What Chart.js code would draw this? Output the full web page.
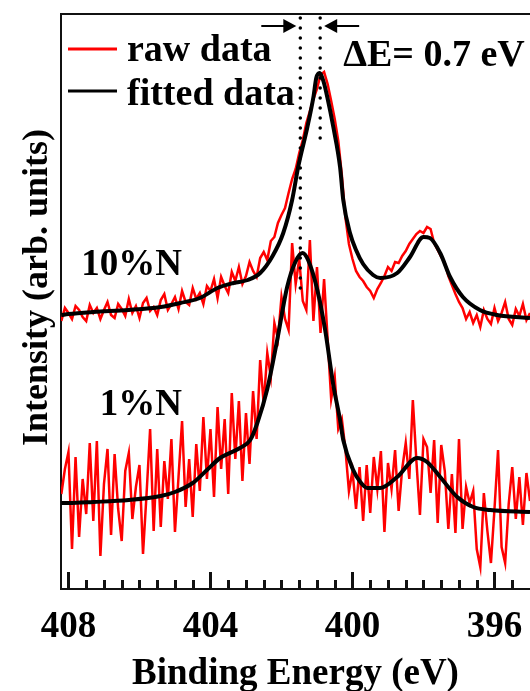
<!DOCTYPE html>
<html>
<head>
    <meta charset="UTF-8">
    <script src="https://cdn.jsdelivr.net/npm/chart.js@4.4.0/dist/chart.umd.min.js" type="text/javascript"></script>
    <title>N 1s XPS</title>
    <style>
        body { margin: 0; background: #fff; overflow: hidden; }
    </style>
</head>
<body>
    <canvas id="myChart" width="530" height="691"></canvas>
    <script type="text/javascript">
        // binding energy grid of the raw spectra (eV)
        const rawEnergy = [408.2, 408.1,
            408.0, 407.9, 407.8, 407.7, 407.6, 407.5, 407.4, 407.3, 407.2, 407.1,
            407.0, 406.9, 406.8, 406.7, 406.6, 406.5, 406.4, 406.3, 406.2, 406.1,
            406.0, 405.9, 405.8, 405.7, 405.6, 405.5, 405.4, 405.3, 405.2, 405.1,
            405.0, 404.9, 404.8, 404.7, 404.6, 404.5, 404.4, 404.3, 404.2, 404.1,
            404.0, 403.9, 403.8, 403.7, 403.6, 403.5, 403.4, 403.3, 403.2, 403.1,
            403.0, 402.9, 402.8, 402.7, 402.6, 402.5, 402.4, 402.3, 402.2, 402.1,
            402.0, 401.9, 401.8, 401.7, 401.6, 401.5, 401.4, 401.3, 401.2, 401.1,
            401.0, 400.9, 400.8, 400.7, 400.6, 400.5, 400.4, 400.3, 400.2, 400.1,
            400.0, 399.9, 399.8, 399.7, 399.6, 399.5, 399.4, 399.3, 399.2, 399.1,
            399.0, 398.9, 398.8, 398.7, 398.6, 398.5, 398.4, 398.3, 398.2, 398.1,
            398.0, 397.9, 397.8, 397.7, 397.6, 397.5, 397.4, 397.3, 397.2, 397.1,
            397.0, 396.9, 396.8, 396.7, 396.6, 396.5, 396.4, 396.3, 396.2, 396.1,
            396.0, 395.9, 395.8, 395.7, 395.6, 395.5, 395.4, 395.3, 395.2, 395.1,
            395.0];

        // raw intensity, 10%N (offset spectrum, arb. units)
        const raw10 = [268, 281,
            276, 270, 283, 279, 272, 268, 284, 276, 281, 270,
            279, 287, 274, 271, 285, 280, 273, 290, 276, 283,
            271, 286, 291, 278, 282, 274, 289, 295, 279, 285,
            292, 280, 298, 287, 284, 301, 290, 296, 285, 303,
            298, 310, 291, 312, 303, 296, 317, 308, 322, 305,
            313, 327, 318, 312, 331, 337, 329, 348, 352, 366,
            374, 381, 396, 410, 420, 436, 449, 466, 478, 490,
            500, 514, 517, 505, 488, 470, 448, 414, 372, 345,
            330, 318, 312, 308, 302, 298, 291, 300, 306, 313,
            322, 318, 327, 326, 333, 338, 345, 350, 355, 358,
            356, 362, 360, 346, 339, 332, 326, 313, 304, 295,
            287, 281, 270, 277, 266, 274, 262, 279, 270, 265,
            281, 268, 276, 287, 270, 264, 280, 273, 285, 269,
            276];

        // raw intensity, 1%N
        const raw1 = [95, 120,
            137, 40, 132, 52, 110, 75, 146, 68, 148, 33,
            105, 140, 54, 135, 80, 48, 118, 136, 70, 102,
            124, 35, 95, 160, 58, 140, 62, 128, 90, 150,
            57, 112, 168, 82, 130, 72, 145, 98, 172, 110,
            160, 92, 182, 120, 170, 95, 196, 130, 188, 108,
            176, 125, 198, 150, 229, 185, 236, 212, 266, 250,
            292, 270, 259, 346, 305, 330, 288, 279, 349, 268,
            322, 256, 310, 250, 190, 212, 160, 170, 140, 98,
            118, 80, 122, 68, 124, 76, 132, 100, 138, 57,
            126, 100, 139, 78, 120, 146, 110, 189, 128, 74,
            150, 142, 96, 149, 66, 144, 118, 60, 115, 56,
            150, 60, 102, 86, 98, 40, 22, 96, 58, 26,
            80, 139, 42, 26, 85, 122, 70, 112, 64, 116,
            88];

        // fitted envelopes
        const fitEnergy10 = [408.2, 408.0, 407.3, 406.3, 405.4, 404.85, 404.3, 403.8, 403.35, 402.95,
            402.6, 402.25, 401.95, 401.7, 401.53, 401.27, 401.1, 401.02, 400.93, 400.82,
            400.71, 400.54, 400.35, 400.26, 400.07, 399.9, 399.7, 399.42, 399.22, 398.74,
            398.38, 398.0, 397.82, 397.53, 397.25, 396.89, 396.41, 395.93, 395.0];
        const fit10 = [274, 275, 277, 279, 282, 286, 291, 301, 306, 309,
            316, 333, 356, 389, 422, 462, 492, 511, 516, 508,
            492, 462, 422, 389, 356, 339, 325, 314, 311, 316,
            332, 352, 351, 336, 312, 292, 279, 274, 271];

        const fitEnergy1 = [408.2, 408.0, 407.3, 406.3, 405.4, 405.0, 404.5, 404.1, 403.73, 403.17,
            402.88, 402.68, 402.4, 402.12, 401.84, 401.61, 401.41, 401.25, 400.99, 400.77,
            400.54, 400.35, 400.26, 399.98, 399.78, 399.58, 399.22, 398.74, 398.18, 397.9,
            397.53, 397.05, 396.6, 396.12, 395.0];
        const fit1 = [86, 86, 87, 89, 93, 97, 106, 119, 131, 141,
            149, 166, 200, 249, 302, 327, 336, 329, 299, 259,
            204, 169, 149, 119, 107, 101, 101, 112, 131, 127,
            112, 92, 82, 79, 77];

        // N 1s peak positions (1%N, 10%N) and the heights the guide lines reach
        const peakPositions = [401.47, 400.91];
        const peakGuideTop = [297, 441];
        const sampleLabels = ['10%N', '1%N'];
        const tickLabels = [408, 404, 400, 396];
        const minorTicks = [395.5, 396.5, 397, 397.5, 398, 398.5, 399, 399.5, 400.5, 401, 401.5,
            402, 402.5, 403, 403.5, 404.5, 405, 405.5, 406, 406.5, 407, 407.5];

        const serif = "'Liberation Serif', 'Times New Roman', serif";
        const frameColor = '#111111';

        function toPoints(xs, ys) {
            return ys.map((v, i) => ({ x: xs[i], y: v }));
        }

        const annotate = {
            id: 'annotate',
            afterDraw(chart) {
                const { ctx, chartArea: a, scales: { x, y } } = chart;
                ctx.save();
                ctx.setLineDash([]);
                // top edge of the frame
                ctx.fillStyle = frameColor;
                ctx.fillRect(a.left - 1, a.top - 1, a.right - a.left + 1, 2);
                // inward ticks: long at the labelled values, short every 0.5 eV
                const bottom = Math.round(a.bottom);
                const drawTick = (v, len) => {
                    const px = Math.round(x.getPixelForValue(v));
                    ctx.fillRect(px - 1, bottom - len, 3, len);
                };
                tickLabels.forEach(v => drawTick(v, 17));
                minorTicks.forEach(v => drawTick(v, 9));
                // y axis title
                ctx.save();
                ctx.translate(38, (a.top + a.bottom) / 2 - 14);
                ctx.rotate(-Math.PI / 2);
                ctx.fillStyle = '#000';
                ctx.font = 'bold 36px ' + serif;
                ctx.textAlign = 'center';
                ctx.textBaseline = 'middle';
                ctx.fillText('Intensity (arb. units)', 0, 0);
                ctx.restore();
                // dotted guides at the peak maxima
                ctx.strokeStyle = '#000';
                ctx.lineWidth = 3.5;
                ctx.lineCap = 'round';
                ctx.setLineDash([0, 10]);
                peakPositions.forEach((p, i) => {
                    const px = x.getPixelForValue(p);
                    ctx.beginPath();
                    ctx.moveTo(px, a.top + 4);
                    ctx.lineTo(px, y.getPixelForValue(peakGuideTop[i]));
                    ctx.stroke();
                });
                ctx.setLineDash([]);
                ctx.lineCap = 'butt';
                // arrows pointing at the two guides
                const ay = a.top + 12;
                const xl = x.getPixelForValue(peakPositions[0]) - 4;
                const xr = x.getPixelForValue(peakPositions[1]) + 4;
                ctx.lineWidth = 2;
                ctx.fillStyle = '#000';
                [[xl, -1], [xr, 1]].forEach(([tip, dir]) => {
                    ctx.beginPath();
                    ctx.moveTo(tip + dir * 35, ay);
                    ctx.lineTo(tip + dir * 10, ay);
                    ctx.stroke();
                    ctx.beginPath();
                    ctx.moveTo(tip, ay);
                    ctx.lineTo(tip + dir * 13, ay - 7);
                    ctx.lineTo(tip + dir * 13, ay + 7);
                    ctx.closePath();
                    ctx.fill();
                });
                ctx.font = 'bold 38px ' + serif;
                ctx.textAlign = 'left';
                ctx.textBaseline = 'alphabetic';
                ctx.fillText('\u0394E= 0.7 eV', xr + 19, a.top + 52);
                // sample labels
                ctx.font = 'bold 37px ' + serif;
                ctx.textAlign = 'right';
                const lx = x.getPixelForValue(404.8);
                ctx.fillText(sampleLabels[0], lx, y.getPixelForValue(314));
                ctx.fillText(sampleLabels[1], lx, y.getPixelForValue(174));
                // legend
                ctx.font = 'bold 38px ' + serif;
                ctx.textAlign = 'left';
                const legend = [chart.data.datasets[2], chart.data.datasets[0]];
                legend.forEach((ds, i) => {
                    const ly = a.top + 35 + i * 42;
                    ctx.strokeStyle = ds.borderColor;
                    ctx.lineWidth = 3;
                    ctx.beginPath();
                    ctx.moveTo(a.left + 7, ly);
                    ctx.lineTo(a.left + 56, ly);
                    ctx.stroke();
                    ctx.fillText(ds.legendText, a.left + 66, ly + 12 + i * 2);
                });
                ctx.restore();
            }
        };

        const ctx = document.getElementById('myChart').getContext('2d');
        const myChart = new Chart(ctx, {
            type: 'line',
            data: {
                datasets: [{
                    label: 'fitted 10%N',
                    legendText: 'fitted data',
                    data: toPoints(fitEnergy10, fit10),
                    borderColor: '#000000',
                    borderWidth: 4,
                    cubicInterpolationMode: 'monotone'
                }, {
                    label: 'fitted 1%N',
                    data: toPoints(fitEnergy1, fit1),
                    borderColor: '#000000',
                    borderWidth: 4,
                    cubicInterpolationMode: 'monotone'
                }, {
                    label: 'raw 10%N',
                    legendText: 'raw data',
                    data: toPoints(rawEnergy, raw10),
                    borderColor: '#ff0000',
                    borderWidth: 2.5
                }, {
                    label: 'raw 1%N',
                    data: toPoints(rawEnergy, raw1),
                    borderColor: '#ff0000',
                    borderWidth: 2.5
                }]
            },
            options: {
                responsive: false,
                animation: false,
                layout: { padding: { top: 14, right: 0, bottom: 0, left: 0 } },
                elements: { point: { radius: 0 } },
                plugins: {
                    legend: { display: false },
                    tooltip: { enabled: false }
                },
                scales: {
                    x: {
                        type: 'linear',
                        reverse: true,
                        min: 395.0,
                        max: 408.21,
                        afterBuildTicks: (s) => { s.ticks = tickLabels.map(v => ({ value: v })); },
                        afterFit: (s) => {
                            s.height = 102;
                            s.paddingLeft = 0;
                            s.paddingRight = 0;
                        },
                        grid: { display: false, drawTicks: false },
                        border: { display: true, color: frameColor, width: 2 },
                        ticks: {
                            padding: 16,
                            color: '#000',
                            maxRotation: 0,
                            autoSkip: false,
                            font: { family: serif, size: 37, weight: 'bold' }
                        },
                        title: {
                            display: true,
                            text: 'Binding Energy (eV)',
                            color: '#000',
                            padding: { top: 0, bottom: -2 },
                            font: { family: serif, size: 37, weight: 'bold', lineHeight: 1 }
                        }
                    },
                    y: {
                        min: 0,
                        max: 575,
                        afterFit: (s) => { s.width = 61; },
                        grid: { display: false, drawTicks: false },
                        border: { display: true, color: frameColor, width: 2 },
                        ticks: { display: false },
                        title: { display: false }
                    }
                }
            },
            plugins: [annotate]
        });
    </script>
</body>
</html>
